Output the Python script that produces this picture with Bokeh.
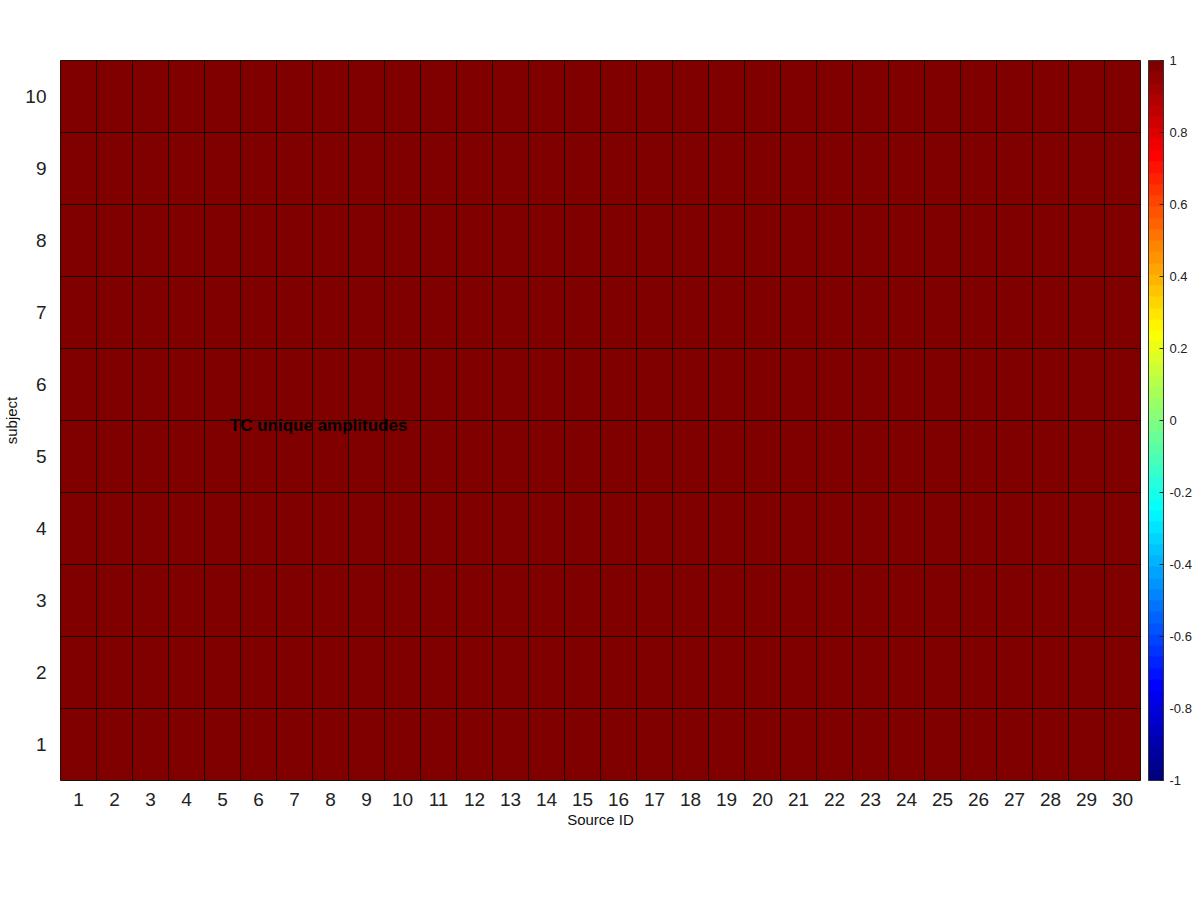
import numpy as np
from bokeh.plotting import figure
from bokeh.models import (ColumnDataSource, LinearColorMapper, ColorBar, FixedTicker,
                          Label, Range1d)
from bokeh.embed import file_html
from bokeh.resources import INLINE

# ---- data ----
source_ids = list(range(1, 31))
subjects = list(range(1, 11))
# every cell of the matrix reads as the maximum colour (value 1)
amplitudes = [[1.0] * len(source_ids) for _ in subjects]
cbar_ticks = [-1, -0.8, -0.6, -0.4, -0.2, 0, 0.2, 0.4, 0.6, 0.8, 1]
cbar_labels = ["-1", "-0.8", "-0.6", "-0.4", "-0.2", "0", "0.2", "0.4", "0.6", "0.8", "1"]
title_text = "TC unique amplitudes"

# jet colormap (64 levels)
def jet(n=64):
    cols = []
    for i in range(n):
        t = i / (n - 1)
        r = np.clip(1.5 - abs(4 * t - 3), 0, 1)
        g = np.clip(1.5 - abs(4 * t - 2), 0, 1)
        b = np.clip(1.5 - abs(4 * t - 1), 0, 1)
        cols.append("#%02x%02x%02x" % (int(round(r * 255)), int(round(g * 255)), int(round(b * 255))))
    return cols

palette = jet(64)
mapper = LinearColorMapper(palette=palette, low=-1, high=1)

xs, ys, vs = [], [], []
for j, s in enumerate(subjects):
    for i, sid in enumerate(source_ids):
        xs.append(sid)
        ys.append(s)
        vs.append(amplitudes[j][i])
src = ColumnDataSource(dict(x=xs, y=ys, v=vs))

p = figure(width=1200, height=900, output_backend="svg", toolbar_location=None,
           x_range=Range1d(0.5, 30.5), y_range=Range1d(0.5, 10.5),
           min_border_left=60, min_border_right=60, min_border_top=60, min_border_bottom=120)

p.rect(x="x", y="y", width=1, height=1, source=src,
       fill_color={"field": "v", "transform": mapper},
       line_color="black", line_alpha=0.75, line_width=1)

p.grid.visible = False
p.outline_line_color = "#202020"
p.outline_line_width = 1

p.xaxis.ticker = FixedTicker(ticks=source_ids)
p.yaxis.ticker = FixedTicker(ticks=subjects)
for ax in (p.xaxis[0], p.yaxis[0]):
    ax.axis_line_color = None
    ax.major_tick_line_color = None
    ax.minor_tick_line_color = None
    ax.major_label_text_font = "Liberation Sans"
    ax.major_label_text_font_size = "19px"
    ax.major_label_text_color = "#222222"
    ax.axis_label_text_font = "Liberation Sans"
    ax.axis_label_text_font_size = "15px"
    ax.axis_label_text_font_style = "normal"
    ax.axis_label_text_color = "#111111"
p.xaxis.axis_label = "Source ID"
p.yaxis.axis_label = "subject"
p.xaxis.major_label_standoff = 6
p.xaxis.axis_label_standoff = 2
p.yaxis.major_label_standoff = 8
p.yaxis.axis_label_standoff = 2

cb = ColorBar(color_mapper=mapper, ticker=FixedTicker(ticks=cbar_ticks),
              major_label_overrides={t: l for t, l in zip(cbar_ticks, cbar_labels)},
              width=15, height=720, location=(8, 0), padding=0, margin=0,
              major_label_text_font="Liberation Sans", major_label_text_font_size="13px",
              major_label_text_color="#222222",
              major_tick_line_color="#222222", major_tick_in=4, major_tick_out=0,
              minor_tick_line_color=None, bar_line_color="#333333",
              label_standoff=6, background_fill_alpha=0)
p.add_layout(cb, "right")

p.add_layout(Label(x=7.67, y=5.43, text=title_text, text_align="center",
                   text_baseline="middle", text_font="Liberation Sans",
                   text_font_size="17px", text_font_style="bold", text_color="#000000"))

open("out.html", "w").write(file_html(p, INLINE))
